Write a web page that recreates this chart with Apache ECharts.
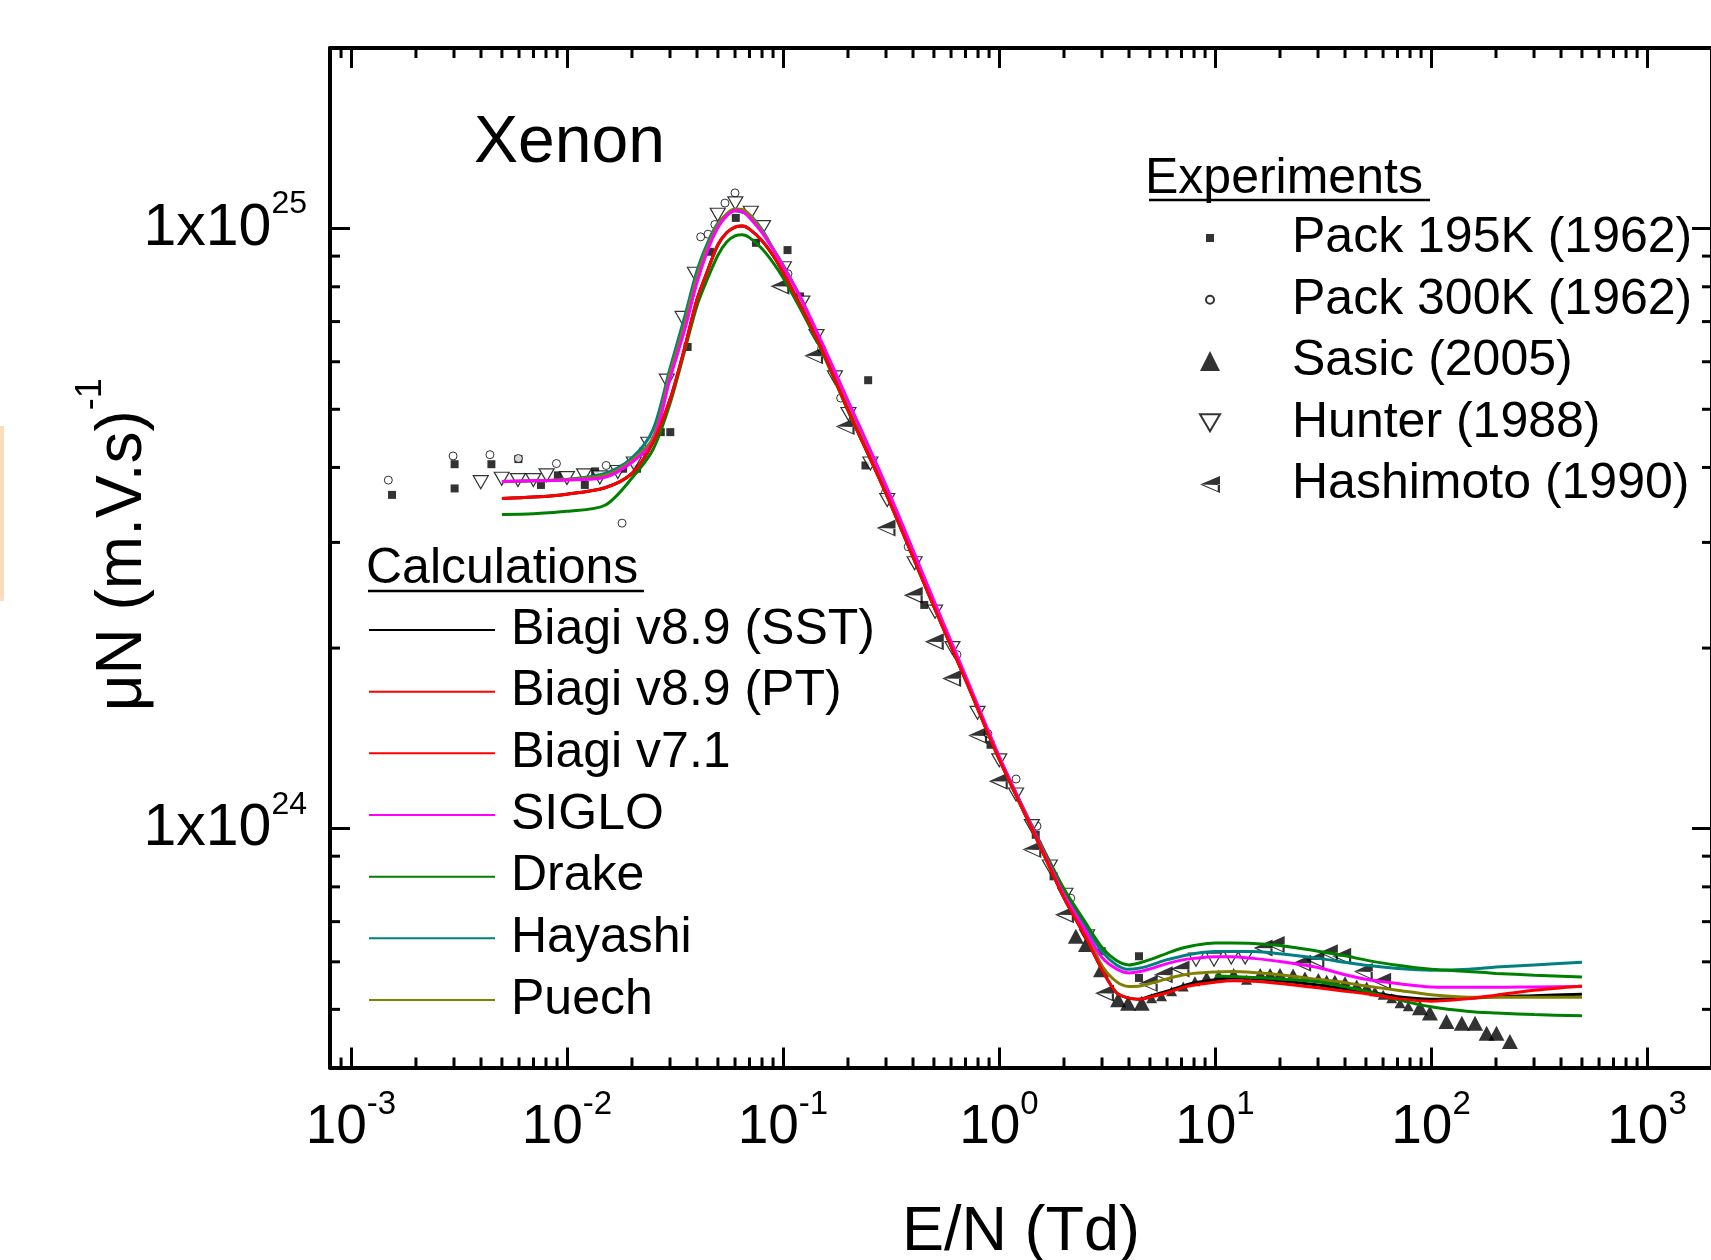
<!DOCTYPE html>
<html>
<head>
<meta charset="utf-8">
<script src="https://cdn.jsdelivr.net/npm/echarts@6/dist/echarts.min.js"></script>
<style>
html,body{margin:0;padding:0;background:#fff;overflow:hidden}
#chart{width:1711px;height:1260px}
</style>
</head>
<body>
<div id="chart"></div>
<script>
const FONT = '"Liberation Sans", Arial, Helvetica, sans-serif';

// ---- tick labels (powers of ten) ----
const xTickExponents = [-3, -2, -1, 0, 1, 2, 3];
const yTickExponents = [24, 25];
const xDecades = [-4, -3, -2, -1, 0, 1, 2, 3];
const yDecades = [23, 24, 25];

// ---- calculations: E/N grid (Td) and mobility*N values ((m.V.s)^-1) ----
const calcEN = [0.005,0.007,0.01,0.015,0.02,0.025,0.03,0.035,0.04,0.045,0.05,0.055,0.06,0.065,0.07,0.08,0.09,0.1,0.12,0.15,0.2,0.3,0.5,0.7,1,1.5,2,2.5,3,3.5,4,4.5,5,6,7,8,10,12,15,20,30,40,50,70,100,150,200,300,500];

const biagiSST = [3.55e24,3.57e24,3.61e24,3.70e24,3.91e24,4.40e24,5.19e24,6.31e24,7.62e24,8.55e24,9.40e24,9.85e24,1.006e25,1.010e25,9.98e24,9.55e24,9.02e24,8.46e24,7.47e24,6.34e24,4.99e24,3.62e24,2.344e24,1.771e24,1.308e24,9.59e23,7.67e23,6.63e23,5.82e23,5.33e23,5.22e23,5.20e23,5.26e23,5.36e23,5.46e23,5.53e23,5.60e23,5.64e23,5.63e23,5.58e23,5.49e23,5.41e23,5.35e23,5.25e23,5.20e23,5.22e23,5.25e23,5.27e23,5.30e23];

const biagiPT = [3.55e24,3.57e24,3.61e24,3.70e24,3.91e24,4.40e24,5.19e24,6.31e24,7.62e24,8.55e24,9.40e24,9.85e24,1.006e25,1.010e25,9.98e24,9.55e24,9.02e24,8.46e24,7.47e24,6.34e24,4.99e24,3.62e24,2.344e24,1.771e24,1.308e24,9.59e23,7.67e23,6.63e23,5.82e23,5.33e23,5.22e23,5.20e23,5.24e23,5.33e23,5.43e23,5.49e23,5.55e23,5.58e23,5.57e23,5.52e23,5.43e23,5.36e23,5.31e23,5.21e23,5.16e23,5.21e23,5.28e23,5.38e23,5.47e23];

const biagi71EN = [10,12,15,20,30,40,50,70,100,150,200,300,500];
const biagi71 = [5.68e23,5.67e23,5.65e23,5.62e23,5.56e23,5.45e23,5.36e23,5.19e23,5.05e23,4.96e23,4.93e23,4.90e23,4.88e23];

const siglo = [3.79e24,3.80e24,3.81e24,3.85e24,4.08e24,4.42e24,5.62e24,6.76e24,8.13e24,9.23e24,1.004e25,1.051e25,1.072e25,1.067e25,1.043e25,9.85e24,9.23e24,8.66e24,7.71e24,6.51e24,5.17e24,3.73e24,2.40e24,1.80e24,1.323e24,9.66e23,7.76e23,6.79e23,6.10e23,5.84e23,5.75e23,5.78e23,5.84e23,5.96e23,6.04e23,6.08e23,6.12e23,6.12e23,6.08e23,6.01e23,5.87e23,5.71e23,5.61e23,5.52e23,5.45e23,5.44e23,5.44e23,5.45e23,5.46e23];

const drake = [3.34e24,3.35e24,3.38e24,3.46e24,3.84e24,4.28e24,5.11e24,6.24e24,7.44e24,8.29e24,9.03e24,9.51e24,9.73e24,9.77e24,9.66e24,9.26e24,8.78e24,8.29e24,7.37e24,6.29e24,4.97e24,3.62e24,2.35e24,1.778e24,1.318e24,9.73e23,7.94e23,7.00e23,6.34e23,6.03e23,5.93e23,5.98e23,6.05e23,6.20e23,6.32e23,6.39e23,6.45e23,6.45e23,6.44e23,6.39e23,6.25e23,6.14e23,6.04e23,5.92e23,5.83e23,5.78e23,5.74e23,5.70e23,5.66e23];

const hayashi = [3.79e24,3.80e24,3.82e24,3.91e24,4.15e24,4.62e24,5.85e24,7.11e24,8.51e24,9.51e24,1.021e25,1.055e25,1.070e25,1.065e25,1.055e25,9.96e24,9.26e24,8.71e24,7.70e24,6.48e24,5.15e24,3.72e24,2.39e24,1.79e24,1.318e24,9.66e23,7.82e23,6.89e23,6.24e23,5.93e23,5.83e23,5.86e23,5.92e23,6.05e23,6.13e23,6.19e23,6.24e23,6.24e23,6.24e23,6.19e23,6.08e23,5.99e23,5.92e23,5.85e23,5.81e23,5.83e23,5.88e23,5.93e23,5.99e23];

const puech = [3.79e24,3.80e24,3.82e24,3.88e24,4.11e24,4.48e24,5.73e24,6.92e24,8.32e24,9.37e24,1.015e25,1.059e25,1.078e25,1.076e25,1.055e25,9.92e24,9.26e24,8.68e24,7.70e24,6.48e24,5.13e24,3.70e24,2.38e24,1.785e24,1.313e24,9.59e23,7.70e23,6.74e23,5.91e23,5.56e23,5.46e23,5.47e23,5.52e23,5.62e23,5.70e23,5.74e23,5.77e23,5.78e23,5.76e23,5.71e23,5.61e23,5.54e23,5.47e23,5.38e23,5.29e23,5.24e23,5.24e23,5.24e23,5.24e23];

// ---- experiments: [E/N (Td), muN] ----
const pack195K = [[1.55e-3,3.60e24],[3.02e-3,4.05e24],[3.02e-3,3.69e24],[4.47e-3,4.05e24],[5.96e-3,4.13e24],[7.58e-3,3.74e24],[9.08e-3,3.88e24],[0.0121,3.74e24],[0.0135,3.94e24],[0.0182,3.98e24],[0.0211,3.98e24],[0.0225,4.25e24],[0.0272,4.58e24],[0.0301,4.58e24],[0.0362,6.35e24],[0.0459,9.15e24],[0.0605,1.042e25],[0.075,9.47e24],[0.105,9.21e24],[0.12,7.71e24],[0.241,4.03e24],[0.248,5.59e24],[0.451,2.36e24],[0.914,1.38e24],[1.48,9.77e23],[1.79,8.33e23],[2.99,6.25e23],[4.45,6.13e23],[4.45,5.64e23]];

const pack300K = [[1.49e-3,3.81e24],[2.97e-3,4.18e24],[4.40e-3,4.20e24],[5.96e-3,4.14e24],[8.94e-3,4.06e24],[0.0152,4.03e24],[0.0180,3.23e24],[0.0416,9.69e24],[0.045,9.79e24],[0.0484,1.016e25],[0.0539,1.103e25],[0.060,1.147e25],[0.1055,8.41e24],[0.151,6.31e24],[0.185,5.22e24],[0.298,3.63e24],[0.380,2.95e24],[0.639,1.95e24],[0.889,1.44e24],[1.20,1.21e24],[1.50,1.01e24],[2.15,7.66e23],[2.68,6.53e23]];

const sasic2005 = [[2.27,6.62e23],[2.53,6.41e23],[2.97,5.82e23],[3.56,5.19e23],[3.96,5.12e23],[4.58,5.12e23],[5.09,5.22e23],[5.66,5.26e23],[6.30,5.36e23],[7.13,5.46e23],[8.08,5.57e23],[9.15,5.67e23],[10.4,5.71e23],[12.2,5.75e23],[14.0,5.60e23],[16.2,5.75e23],[18.0,5.75e23],[20.0,5.75e23],[23.0,5.74e23],[26.1,5.67e23],[30.1,5.64e23],[32.9,5.60e23],[35.9,5.60e23],[40.0,5.57e23],[45.3,5.50e23],[50.4,5.46e23],[55.0,5.36e23],[60.1,5.29e23],[65.8,5.22e23],[71.9,5.12e23],[78.5,5.06e23],[88.9,5.03e23],[98.9,4.93e23],[118,4.77e23],[139,4.74e23],[160,4.74e23],[181,4.56e23],[201,4.56e23],[232,4.42e23]];

const hunter1988 = [[3.99e-3,3.78e24],[4.99e-3,3.83e24],[5.93e-3,3.81e24],[6.99e-3,3.81e24],[8.05e-3,3.88e24],[0.010,3.84e24],[0.012,3.88e24],[0.0142,3.85e24],[0.0172,3.93e24],[0.0204,4.06e24],[0.0238,4.38e24],[0.029,5.58e24],[0.0343,7.10e24],[0.0391,8.41e24],[0.0499,1.055e25],[0.0602,1.102e25],[0.071,1.063e25],[0.0809,1.006e25],[0.101,8.59e24],[0.123,7.53e24],[0.143,6.62e24],[0.174,5.65e24],[0.201,4.91e24],[0.254,4.06e24],[0.304,3.53e24],[0.407,2.77e24],[0.506,2.30e24],[0.609,2.0e24],[0.796,1.56e24],[1.003,1.30e24],[1.20,1.14e24],[1.42,1.01e24],[1.72,8.65e23],[2.03,7.76e23],[2.56,6.62e23],[8.17,6.05e23],[9.9,6.05e23],[11.9,6.10e23],[13.8,6.10e23]];

const hashimoto1990 = [[0.0968,8.02e24],[0.1386,6.14e24],[0.194,4.68e24],[0.30,3.17e24],[0.401,2.45e24],[0.502,2.05e24],[0.604,1.78e24],[0.796,1.43e24],[0.993,1.20e24],[1.42,9.23e23],[2.01,7.19e23],[3.08,5.32e23],[4.91,5.52e23],[5.76,5.71e23],[6.89,5.84e23],[16.7,6.33e23],[19.0,6.41e23],[25.2,5.97e23],[29.0,6.05e23],[33.5,6.21e23],[38.6,6.13e23],[48.6,5.78e23],[59.1,5.57e23]];

// ---------------------------------------------------------------
const X_MIN = 8e-4, X_MAX = 2000, Y_MIN = 4e23, Y_MAX = 2e25;

function pair(xs, ys) { return xs.map((x, i) => [x, ys[i]]); }

const xMinorTicks = [];
xDecades.forEach(k => { for (let m = 2; m <= 9; m++) { const v = m * Math.pow(10, k); if (v > X_MIN * 1.001 && v < X_MAX * 0.999) xMinorTicks.push([v, 1e24]); } });
const yMinorTicks = [];
yDecades.forEach(k => { for (let m = 2; m <= 9; m++) { const v = m * Math.pow(10, k); if (v > Y_MIN * 1.001 && v < Y_MAX * 0.999) yMinorTicks.push([1, v]); } });

function isMajor(v, list) {
  const e = Math.log10(v); const r = Math.round(e);
  return Math.abs(e - r) < 1e-6 && list.indexOf(r) >= 0 ? r : null;
}

const tickStyle = { stroke: '#000', lineWidth: 3 };

const HASHI_PATH = 'path://M0,6 L14,0 L14,6.3 Z M0,6 L14,12 L14,6 L12.4,6 L12.4,10.5 L2.8,6.3 Z';
const HUNTER_PATH = 'path://M0,0 L14,0 L7,12 Z';

const lineSeries = (name, data, color, z) => ({
  name, type: 'line', data, smooth: 0.3, showSymbol: false, symbol: 'none',
  lineStyle: { color, width: 3 }, itemStyle: { color }, z, silent: true
});

const option = {
  animation: false,
  backgroundColor: '#ffffff',
  textStyle: { fontFamily: FONT, color: '#000' },
  grid: { left: 330, top: 48, right: -1, bottom: 192.5, containLabel: false, outerBoundsMode: 'none' },
  xAxis: [
    {
      type: 'log', logBase: 10, min: X_MIN, max: X_MAX, position: 'bottom',
      axisLine: { show: true, lineStyle: { color: '#000', width: 4 } },
      axisTick: { show: true, inside: true, length: 20, lineStyle: { color: '#000', width: 3 } },
      minorTick: { show: false }, splitLine: { show: false },
      axisLabel: {
        interval: 0, margin: 30, color: '#000',
        formatter: v => { const e = isMajor(v, xTickExponents); return e === null ? '' : '{b|10}{s|' + e + '}'; },
        rich: {
          b: { fontSize: 55, fontFamily: FONT, color: '#000', lineHeight: 60 },
          s: { fontSize: 33, fontFamily: FONT, color: '#000', lineHeight: 20, padding: [0, 0, 46, 0] }
        }
      },
      name: 'E/N (Td)', nameLocation: 'middle', nameGap: 134, nameMoveOverlap: false,
      nameTextStyle: { fontSize: 63, fontFamily: FONT, color: '#000', lineHeight: 63 }
    },
    {
      type: 'log', logBase: 10, min: X_MIN, max: X_MAX, position: 'top',
      axisLine: { show: true, lineStyle: { color: '#000', width: 4 } },
      axisTick: { show: true, inside: true, length: 20, lineStyle: { color: '#000', width: 3 } },
      axisLabel: { show: false }, splitLine: { show: false }
    }
  ],
  yAxis: [
    {
      type: 'log', logBase: 10, min: Y_MIN, max: Y_MAX, position: 'left',
      axisLine: { show: true, lineStyle: { color: '#000', width: 4 } },
      axisTick: { show: true, inside: true, length: 20, lineStyle: { color: '#000', width: 3 } },
      minorTick: { show: false }, splitLine: { show: false },
      axisLabel: {
        interval: 0, margin: 23, color: '#000',
        formatter: v => { const e = isMajor(v, yTickExponents); return e === null ? '' : '{b|1x10}{s|' + e + '}'; },
        rich: {
          b: { fontSize: 59, fontFamily: FONT, color: '#000', lineHeight: 60 },
          s: { fontSize: 32, fontFamily: FONT, color: '#000', lineHeight: 20, padding: [0, 0, 48, 0] }
        }
      },
      name: '{a|\u03bcN (m.V.s)}{s|-1}', nameLocation: 'middle', nameRotate: 90, nameGap: 175,
      nameMoveOverlap: false,
      nameTextStyle: {
        color: '#000',
        rich: {
          a: { fontSize: 64, fontFamily: FONT, color: '#000', lineHeight: 64, padding: [0, 0, 0, 26] },
          s: { fontSize: 36, fontFamily: FONT, color: '#000', lineHeight: 20, padding: [0, 0, 64, 0] }
        }
      }
    },
    {
      type: 'log', logBase: 10, min: Y_MIN, max: Y_MAX, position: 'right',
      axisLine: { show: true, lineStyle: { color: '#000', width: 4 } },
      axisTick: { show: true, inside: true, length: 20, lineStyle: { color: '#000', width: 3 } },
      axisLabel: { show: false }, splitLine: { show: false }
    }
  ],
  legend: [
    {
      orient: 'vertical', left: 369, top: 605, padding: 0, itemGap: 11.67,
      itemWidth: 126, itemHeight: 2, icon: 'rect', selectedMode: false,
      textStyle: { fontSize: 50, fontFamily: FONT, color: '#000', lineHeight: 50, padding: [0, 0, 0, 11] },
      data: [
        { name: 'Biagi v8.9 (SST)', itemStyle: { color: '#000000' } },
        { name: 'Biagi v8.9 (PT)', itemStyle: { color: '#ff0000' } },
        { name: 'Biagi v7.1', itemStyle: { color: '#ff0000' } },
        { name: 'SIGLO', itemStyle: { color: '#ff00ff' } },
        { name: 'Drake', itemStyle: { color: '#008000' } },
        { name: 'Hayashi', itemStyle: { color: '#008080' } },
        { name: 'Puech', itemStyle: { color: '#808000' } }
      ]
    },
    {
      orient: 'vertical', left: 1205, top: 213, padding: 0, itemGap: 11.75,
      itemWidth: 8, itemHeight: 8, selectedMode: false,
      textStyle: { fontSize: 50, fontFamily: FONT, color: '#000', lineHeight: 50, padding: [0, 0, 0, 73] },
      data: ['Pack 195K (1962)', 'Pack 300K (1962)']
    },
    {
      orient: 'vertical', left: 1199, top: 336, padding: 0, itemGap: 11.75,
      itemWidth: 20, itemHeight: 20, selectedMode: false,
      textStyle: { fontSize: 50, fontFamily: FONT, color: '#000', lineHeight: 50, padding: [0, 0, 0, 67] },
      data: ['Sasic (2005)', 'Hunter (1988)', 'Hashimoto (1990)']
    }
  ],
  graphic: [
    { type: 'rect', shape: { x: 0, y: 426, width: 4, height: 175 }, style: { fill: '#fcdcbc' }, silent: true },
    { type: 'text', x: 474, y: 144, style: { text: 'Xenon', fontSize: 66, fontFamily: FONT, fill: '#000', verticalAlign: 'middle', align: 'left' }, silent: true },
    { type: 'text', x: 1145, y: 179, style: { text: 'Experiments', fontSize: 50, fontFamily: FONT, fill: '#000', verticalAlign: 'middle', align: 'left' }, silent: true },
    { type: 'line', shape: { x1: 1149, y1: 200, x2: 1430, y2: 200 }, style: { stroke: '#000', lineWidth: 2.5 }, silent: true },
    { type: 'text', x: 366, y: 569, style: { text: 'Calculations', fontSize: 50, fontFamily: FONT, fill: '#000', verticalAlign: 'middle', align: 'left' }, silent: true },
    { type: 'line', shape: { x1: 368, y1: 591, x2: 644, y2: 591 }, style: { stroke: '#000', lineWidth: 2.5 }, silent: true }
  ],
  series: [
    // minor ticks on all four sides
    {
      type: 'custom', silent: true, z: 5, data: xMinorTicks, encode: { x: 0, y: 1 }, clip: false,
      renderItem: (params, api) => {
        const cs = params.coordSys;
        const px = api.coord([api.value(0), 1e24])[0];
        const yb = cs.y + cs.height, yt = cs.y;
        return { type: 'group', children: [
          { type: 'line', shape: { x1: px, y1: yb, x2: px, y2: yb - 10 }, style: tickStyle },
          { type: 'line', shape: { x1: px, y1: yt, x2: px, y2: yt + 10 }, style: tickStyle }
        ] };
      }
    },
    {
      type: 'custom', silent: true, z: 5, data: yMinorTicks, encode: { x: 0, y: 1 }, clip: false,
      renderItem: (params, api) => {
        const cs = params.coordSys;
        const py = api.coord([1, api.value(1)])[1];
        const xl = cs.x, xr = cs.x + cs.width;
        return { type: 'group', children: [
          { type: 'line', shape: { x1: xl, y1: py, x2: xl + 10, y2: py }, style: tickStyle },
          { type: 'line', shape: { x1: xr, y1: py, x2: xr - 10, y2: py }, style: tickStyle }
        ] };
      }
    },
    // experiments
    { name: 'Pack 195K (1962)', type: 'scatter', data: pack195K, symbol: 'rect', symbolSize: 8, itemStyle: { color: '#000' }, z: 2, silent: true },
    { name: 'Pack 300K (1962)', type: 'scatter', data: pack300K, symbol: 'circle', symbolSize: 8, itemStyle: { color: '#fff', borderColor: '#000', borderWidth: 1 }, z: 2, silent: true },
    { name: 'Sasic (2005)', type: 'scatter', data: sasic2005, symbol: 'triangle',
      symbolSize: v => (v[0] < 5 || v[0] > 85) ? [16, 15] : [11, 10], itemStyle: { color: '#000' }, z: 2, silent: true },
    { name: 'Hunter (1988)', type: 'scatter', data: hunter1988, symbol: HUNTER_PATH, symbolSize: [15, 13], itemStyle: { color: '#fff', borderColor: '#000', borderWidth: 1.2 }, z: 2, silent: true },
    { name: 'Hashimoto (1990)', type: 'scatter', data: hashimoto1990, symbol: HASHI_PATH, symbolSize: [19, 17], itemStyle: { color: '#000' }, z: 2, silent: true },
    // calculations
    lineSeries('Biagi v8.9 (SST)', pair(calcEN, biagiSST), '#000000', 3),
    lineSeries('Hayashi', pair(calcEN, hayashi), '#008080', 3),
    lineSeries('Puech', pair(calcEN, puech), '#808000', 3),
    lineSeries('Drake', pair(calcEN, drake), '#008000', 3),
    lineSeries('Biagi v7.1', pair(biagi71EN, biagi71), '#008000', 3),
    lineSeries('SIGLO', pair(calcEN, siglo), '#ff00ff', 3),
    lineSeries('Biagi v8.9 (PT)', pair(calcEN, biagiPT), '#ff0000', 3)
  ]
};

const chart = echarts.init(document.getElementById('chart'), null, { renderer: 'canvas' });
chart.setOption(option);
</script>
</body>
</html>
